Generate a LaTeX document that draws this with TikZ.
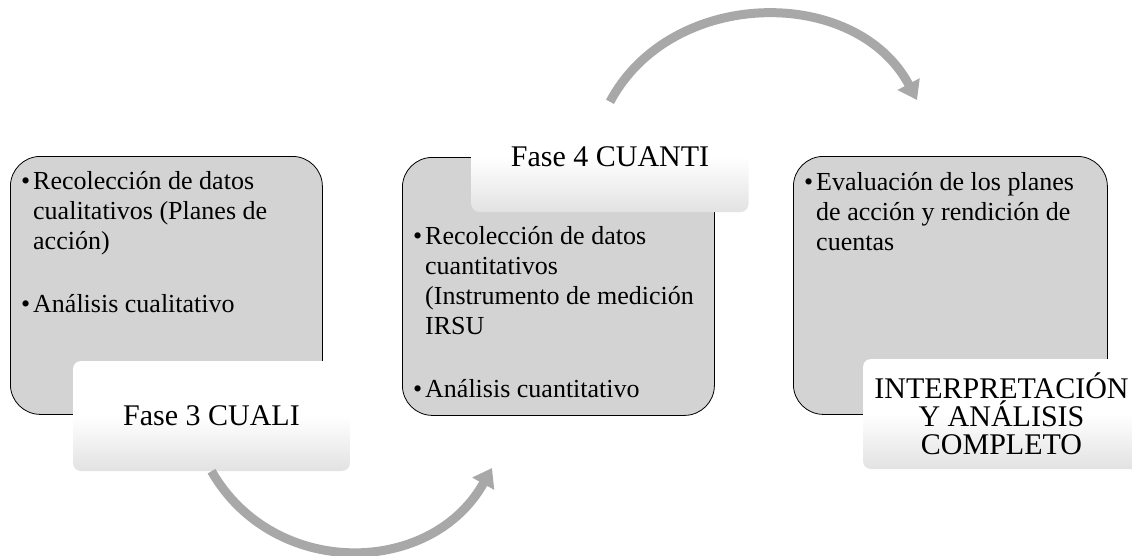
\documentclass[tikz,border=0pt]{standalone}
\usepackage{fontspec}
\setmainfont{Liberation Serif}
\usetikzlibrary{arrows.meta}

\definecolor{boxgray}{RGB}{211,211,211}
\definecolor{taggray}{RGB}{226,226,226}
\definecolor{arrowgray}{RGB}{168,168,168}

\newcommand{\blt}{\strut\makebox[12pt][l]{\textbullet}}
\newcommand{\ind}{\hspace*{12pt}}

\begin{document}
\begin{tikzpicture}[
    x=1pt, y=-1pt,
    phasebox/.style={draw=black, line width=0.8pt, fill=boxgray, rounded corners=30pt,
                     minimum width=312pt, minimum height=258pt, anchor=north west, inner sep=0pt},
    bullets/.style={anchor=north west, align=left, inner sep=0pt, font=\fontsize{26}{30}\selectfont},
    tag/.style={rounded corners=8pt, minimum width=277pt, minimum height=110pt, inner sep=0pt,
                top color=white, bottom color=taggray, middle color=white,
                align=center, font=\fontsize{30}{28}\selectfont},
    cyclearrow/.style={-{Triangle[length=18pt,width=24pt]}, line width=9pt, arrowgray}
]
    \useasboundingbox (0,0) rectangle (1132,555);

    % Phase boxes
    \node[phasebox] (cuali) at (10,156) {};
    \node[phasebox] (cuanti) at (402,157) {};
    \node[phasebox, minimum width=314pt] (final) at (793,156) {};

    % Box contents
    \node[bullets] (cualiText) at (21,168)
        {\blt Recolección de datos\\ \ind cualitativos (Planes de\\ \ind acción)\\[33pt]
         \blt Análisis cualitativo};
    \node[bullets] (cuantiText) at (413,223)
        {\blt Recolección de datos\\ \ind cuantitativos\\ \ind (Instrumento de medición\\ \ind IRSU\\[33pt]
         \blt Análisis cuantitativo};
    \node[bullets] (finalText) at (804,169)
        {\blt Evaluación de los planes\\ \ind de acción y rendición de\\ \ind cuentas};

    % Phase tags
    \node[tag] (cualiTag) at (211.5,416) {Fase 3 CUALI};
    \node[tag] (cuantiTag) at (610,157) {Fase 4 CUANTI};
    \node[tag] (finalTag) at (1001.5,414) {INTERPRETACIÓN\\Y ANÁLISIS\\COMPLETO};

    % Arrows between phases
    \coordinate (lowEnd) at (492,468);
    \coordinate (highEnd) at (917,100);
    \draw[cyclearrow] (cualiTag.south) .. controls +(62,108) and +(-61,109) .. (lowEnd);
    \draw[cyclearrow] (cuantiTag.north) .. controls +(61,-115) and +(-61,-115) .. (highEnd);
\end{tikzpicture}
\end{document}
